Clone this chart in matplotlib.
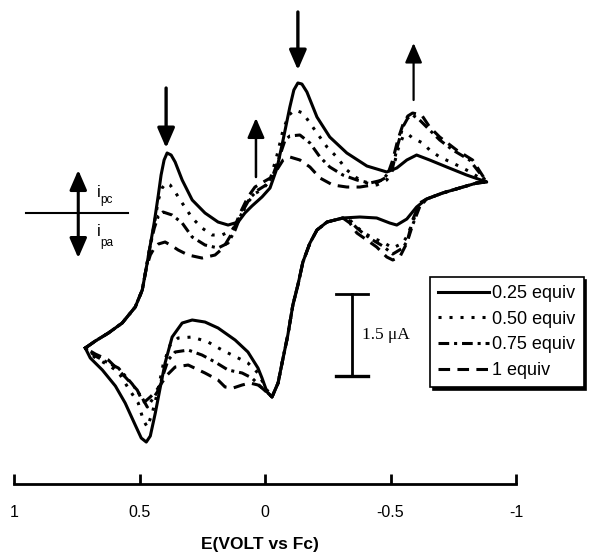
import numpy as np
import matplotlib.pyplot as plt

plt.rcParams['font.family'] = ['Liberation Sans', 'DejaVu Sans']

# values: E in V vs Fc, current in uA (cathodic up)
# shared pieces of the scans (all four traces overlap there)
rise_E = [0.716, 0.676, 0.624, 0.569, 0.517, 0.489, 0.473]
rise_I = [-2.468, -2.340, -2.194, -2.011, -1.719, -1.408, -1.006]
ret_E = [-0.883, -0.843, -0.775, -0.708, -0.644]
ret_I = [0.567, 0.548, 0.457, 0.366, 0.256]
mid_E = [-0.310, -0.247, -0.207, -0.179, -0.151, -0.131, -0.111, -0.091, -0.072, -0.052, -0.028]
mid_I = [-0.091, -0.165, -0.311, -0.549, -0.896, -1.317, -1.682, -2.230, -2.651, -3.108, -3.363]

# 0.25 equiv
s_up_E = [0.457, 0.441, 0.425, 0.414, 0.402, 0.390, 0.374, 0.358, 0.330, 0.290, 0.239, 0.187, 0.147,
          0.107, 0.080, 0.052, 0.012, -0.020, -0.048, -0.072, -0.099, -0.115, -0.131, -0.147, -0.167,
          -0.207, -0.258, -0.326, -0.406, -0.485, -0.525, -0.565, -0.604, -0.656, -0.724, -0.803, -0.883]
s_up_I = [-0.585, -0.165, 0.329, 0.695, 0.969, 1.097, 1.060, 0.932, 0.603, 0.238, 0.0, -0.165, -0.220,
          -0.165, 0.0, 0.128, 0.293, 0.457, 0.823, 1.335, 1.938, 2.249, 2.377, 2.358, 2.212,
          1.755, 1.389, 1.097, 0.859, 0.750, 0.823, 0.969, 1.060, 0.969, 0.841, 0.695, 0.567]
s_lo1_E = [-0.604, -0.565, -0.525, -0.497, -0.445, -0.378]
s_lo1_I = [0.110, -0.110, -0.220, -0.183, -0.091, -0.073]
s_lo2_E = [-0.008, 0.012, 0.028, 0.068, 0.119, 0.187, 0.239, 0.290, 0.330, 0.370, 0.398, 0.417, 0.437,
           0.457, 0.473, 0.493, 0.517, 0.557, 0.596, 0.648, 0.696, 0.716]
s_lo2_I = [-3.272, -3.016, -2.834, -2.541, -2.322, -2.102, -1.993, -1.956, -2.011, -2.267, -2.742, -3.181,
           -3.656, -4.077, -4.187, -4.114, -3.876, -3.474, -3.163, -2.870, -2.651, -2.468]

# 0.50 equiv
d_up_E = [0.457, 0.441, 0.425, 0.410, 0.394, 0.378, 0.358, 0.330, 0.290, 0.251, 0.211, 0.171, 0.131,
          0.099, 0.068, 0.036, 0.008, -0.020, -0.048, -0.072, -0.095, -0.119, -0.151, -0.179, -0.207,
          -0.247, -0.286, -0.326, -0.366, -0.406, -0.445, -0.485, -0.509, -0.529, -0.549, -0.569,
          -0.588, -0.628, -0.656, -0.696, -0.748, -0.803, -0.883]
d_up_I = [-0.585, -0.201, 0.238, 0.457, 0.548, 0.512, 0.384, 0.183, -0.091, -0.274, -0.402, -0.402, -0.311,
          -0.073, 0.201, 0.366, 0.439, 0.603, 1.060, 1.517, 1.792, 1.883, 1.828, 1.645, 1.462,
          1.207, 1.024, 0.786, 0.640, 0.548, 0.512, 0.603, 0.786, 1.152, 1.389, 1.444,
          1.371, 1.280, 1.152, 1.024, 0.914, 0.786, 0.567]
d_lo1_E = [-0.616, -0.588, -0.569, -0.549, -0.509, -0.469, -0.429, -0.390, -0.366, -0.338]
d_lo1_I = [0.146, -0.165, -0.402, -0.549, -0.640, -0.530, -0.457, -0.347, -0.256, -0.128]
d_lo2_E = [-0.008, 0.028, 0.068, 0.107, 0.171, 0.227, 0.290, 0.346, 0.378, 0.406, 0.429, 0.449, 0.469,
           0.485, 0.505, 0.545, 0.584, 0.624, 0.676, 0.716]
d_lo2_I = [-3.236, -2.925, -2.742, -2.651, -2.505, -2.358, -2.267, -2.285, -2.413, -2.779, -3.291, -3.656,
           -3.912, -3.784, -3.474, -3.199, -2.907, -2.779, -2.651, -2.468]

# 0.75 equiv
dd_up_E = [0.457, 0.441, 0.425, 0.406, 0.370, 0.330, 0.290, 0.239, 0.187, 0.147, 0.119, 0.091, 0.060,
           0.028, -0.004, -0.032, -0.060, -0.080, -0.099, -0.139, -0.179, -0.219, -0.258, -0.310,
           -0.366, -0.418, -0.469, -0.509, -0.529, -0.549, -0.569, -0.588, -0.616, -0.656, -0.696,
           -0.748, -0.815, -0.883]
dd_up_I = [-0.585, -0.274, -0.055, 0.018, -0.037, -0.183, -0.439, -0.585, -0.640, -0.549, -0.311, 0.018, 0.274,
           0.420, 0.512, 0.695, 1.060, 1.335, 1.408, 1.426, 1.280, 1.024, 0.841, 0.695,
           0.603, 0.548, 0.603, 0.841, 1.243, 1.572, 1.737, 1.792, 1.700, 1.517, 1.335,
           1.152, 0.969, 0.567]
dd_lo1_E = [-0.616, -0.588, -0.569, -0.549, -0.509, -0.469, -0.429, -0.390, -0.366, -0.338]
dd_lo1_I = [0.110, -0.220, -0.494, -0.640, -0.750, -0.603, -0.494, -0.366, -0.274, -0.146]
dd_lo2_E = [0.012, 0.052, 0.091, 0.147, 0.199, 0.251, 0.306, 0.358, 0.386, 0.410, 0.429, 0.445, 0.469,
            0.489, 0.529, 0.584, 0.624, 0.676, 0.716]
dd_lo2_I = [-3.199, -3.016, -2.925, -2.870, -2.724, -2.596, -2.505, -2.541, -2.687, -3.016, -3.272, -3.382,
            -3.547, -3.382, -3.126, -2.834, -2.742, -2.614, -2.468]

# 1 equiv
da_up_E = [0.457, 0.441, 0.425, 0.398, 0.370, 0.346, 0.306, 0.251, 0.199, 0.167, 0.131, 0.099, 0.068,
           0.040, 0.0, -0.028, -0.052, -0.072, -0.099, -0.139, -0.179, -0.219, -0.270, -0.326,
           -0.378, -0.429, -0.485, -0.509, -0.529, -0.549, -0.569, -0.588, -0.624, -0.656, -0.696,
           -0.763, -0.827, -0.883]
da_up_I = [-0.768, -0.640, -0.567, -0.530, -0.603, -0.676, -0.768, -0.823, -0.768, -0.640, -0.366, 0.0, 0.293,
           0.475, 0.585, 0.658, 0.823, 0.969, 1.024, 0.969, 0.841, 0.640, 0.512, 0.475,
           0.475, 0.512, 0.658, 0.969, 1.335, 1.609, 1.773, 1.828, 1.792, 1.572, 1.389,
           1.152, 0.969, 0.567]
da_lo1_E = [-0.616, -0.588, -0.565, -0.537, -0.509, -0.485, -0.445, -0.406, -0.366, -0.338]
da_lo1_I = [0.183, -0.128, -0.549, -0.804, -0.859, -0.804, -0.622, -0.494, -0.366, -0.183]
da_lo2_E = [0.0, 0.028, 0.060, 0.091, 0.127, 0.159, 0.187, 0.239, 0.306, 0.358, 0.390, 0.417, 0.437,
            0.457, 0.485, 0.509, 0.557, 0.624, 0.676, 0.716]
da_lo2_I = [-3.236, -3.144, -3.108, -3.144, -3.199, -3.181, -3.053, -2.925, -2.779, -2.815, -2.962, -3.144,
            -3.272, -3.363, -3.474, -3.236, -2.998, -2.687, -2.578, -2.468]

labels = ['0.25 equiv', '0.50 equiv', '0.75 equiv', '1 equiv']
styles = ['-', (0, (1, 2.6)), (0, (3.5, 1.6, 1, 1.6)), (0, (3.8, 2.4))]

# arrows (E, I tail -> I tip) and the 1.5 uA scale bar
arrow_E = [0.394, -0.131, 0.036, -0.592]
arrow_from = [2.285, 3.675, 0.658, 2.066]
arrow_to = [1.188, 2.614, 1.737, 3.108]
arrow_lw = [2.4, 2.4, 1.8, 1.6]
bar_E, bar_top, bar_len = -0.346, -1.48, 1.5


def build(up_E, up_I, lo1_E, lo1_I, lo2_E, lo2_I, cut):
    E = rise_E[:cut] + up_E + ret_E[1:] + lo1_E + mid_E + lo2_E
    I = rise_I[:cut] + up_I + ret_I[1:] + lo1_I + mid_I + lo2_I
    return E, I


curves = [
    build(s_up_E, s_up_I, s_lo1_E, s_lo1_I, s_lo2_E, s_lo2_I, 7),
    build(d_up_E, d_up_I, d_lo1_E, d_lo1_I, d_lo2_E, d_lo2_I, 7),
    build(dd_up_E, dd_up_I, dd_lo1_E, dd_lo1_I, dd_lo2_E, dd_lo2_I, 7),
    build(da_up_E, da_up_I, da_lo1_E, da_lo1_I, da_lo2_E, da_lo2_I, 7),
]

fig = plt.figure(figsize=(5.98, 5.58), dpi=100)
ax = fig.add_axes([14 / 598, 74 / 558, 502 / 598, 484 / 558])

lines = []
for (E, I), lab, ls in zip(curves, labels, styles):
    ln, = ax.plot(E, I, color='black', lw=2.2, ls=ls, label=lab,
                  solid_joinstyle='round')
    lines.append(ln)

ax.set_xlim(1, -1)
ax.set_ylim(-4.954, 3.894)
for side in ['left', 'top', 'right']:
    ax.spines[side].set_visible(False)
ax.spines['bottom'].set_linewidth(2)
ax.set_yticks([])
ax.set_xticks([1, 0.5, 0, -0.5, -1])
ax.set_xticklabels(['1', '0.5', '0', '-0.5', '-1'])
ax.tick_params(axis='x', direction='in', length=7.5, width=2, pad=15, labelsize=11.5)

# peak-change arrows
for x, y0, y1, lw in zip(arrow_E, arrow_from, arrow_to, arrow_lw):
    ax.annotate('', xy=(x, y1), xytext=(x, y0),
                arrowprops=dict(arrowstyle='-|>,head_length=0.6,head_width=0.26',
                                color='black', lw=lw, mutation_scale=20,
                                shrinkA=0, shrinkB=0))

# i_pc / i_pa marker
ax.plot([0.954, 0.545], [0, 0], color='black', lw=1.5)
ax.annotate('', xy=(0.744, 0.786), xytext=(0.744, -0.823),
            arrowprops=dict(arrowstyle='<|-|>,head_length=0.6,head_width=0.26',
                            color='black', lw=2.2, mutation_scale=20,
                            shrinkA=0, shrinkB=0))
ax.text(0.668, 0.366, 'i', fontsize=12, ha='left', va='center')
ax.text(0.656, 0.238, 'pc', fontsize=8.5, ha='left', va='center')
ax.text(0.668, -0.347, 'i', fontsize=12, ha='left', va='center')
ax.text(0.656, -0.548, 'pa', fontsize=8.5, ha='left', va='center')

# scale bar
ax.plot([bar_E, bar_E], [bar_top, bar_top - bar_len], color='black', lw=2)
ax.plot([bar_E + 0.064, bar_E - 0.064], [bar_top, bar_top], color='black', lw=2)
ax.plot([bar_E + 0.064, bar_E - 0.064], [bar_top - bar_len, bar_top - bar_len], color='black', lw=2.4)
ax.text(-0.386, bar_top - bar_len / 2, '1.5 \u03bcA', family='Liberation Serif',
        fontsize=12.5, ha='left', va='center')

leg = ax.legend(handles=lines, loc='upper left', bbox_to_anchor=(430 / 598, 1 - 277 / 558),
                bbox_transform=fig.transFigure, fontsize=13, frameon=True, fancybox=False,
                edgecolor='black', shadow={'color': 'black', 'alpha': 1},
                handlelength=2.8, handletextpad=0.2, labelspacing=0.48,
                borderpad=0.45, borderaxespad=0)
leg.get_frame().set_linewidth(1.2)
leg.get_frame().set_alpha(1)

fig.text(260 / 598, 1 - 545 / 558, 'E(VOLT vs Fc)', ha='center', va='center',
         fontweight='bold', fontsize=12.5)

fig.savefig('out.png', dpi=100)
